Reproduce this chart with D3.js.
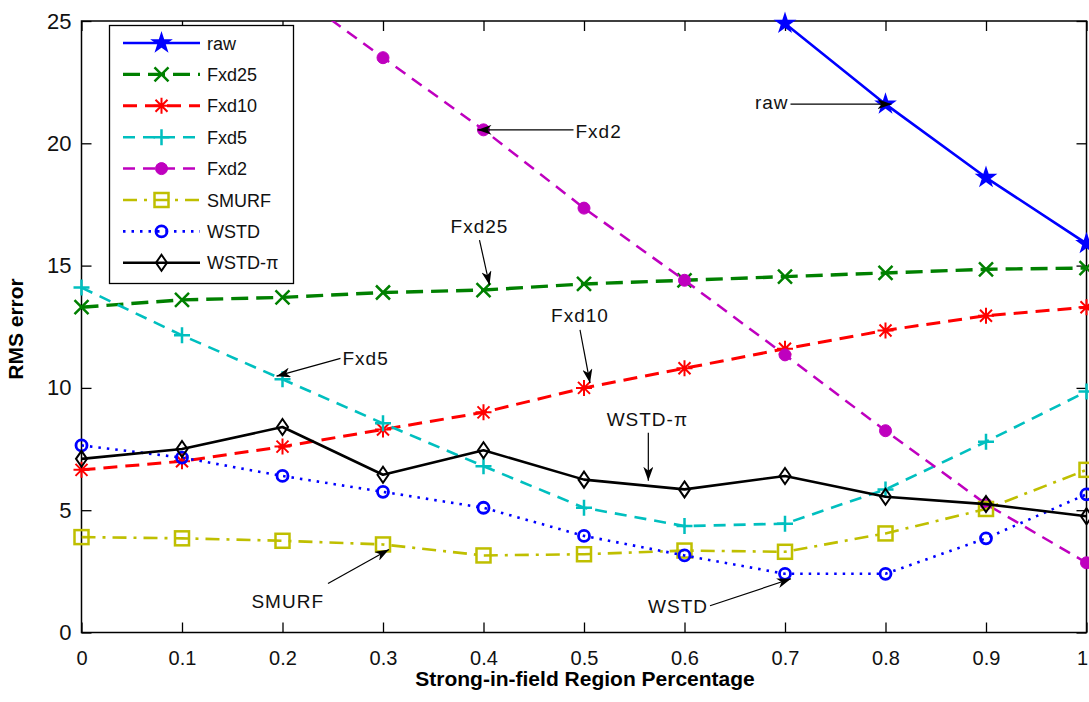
<!DOCTYPE html>
<html><head><meta charset="utf-8">
<script src="https://cdn.jsdelivr.net/npm/d3@7"></script>
<style>body{margin:0;background:#fff}svg{display:block}text{font-family:"Liberation Sans",Arial,sans-serif}</style>
</head><body>
<svg id="chart" width="1089" height="702"></svg>
<script>
// ---------- data ----------
const xValues = [0, 0.1, 0.2, 0.3, 0.4, 0.5, 0.6, 0.7, 0.8, 0.9, 1];
const raw    = [null, null, null, null, null, null, null, 24.9, 21.6, 18.6, 15.9];
const fxd25  = [13.3, 13.6, 13.7, 13.9, 14.0, 14.25, 14.4, 14.55, 14.7, 14.85, 14.9];
const fxd10  = [6.65, 7.0, 7.6, 8.3, 9.0, 10.0, 10.8, 11.6, 12.35, 12.95, 13.3];
const fxd5   = [14.1, 12.15, 10.35, 8.55, 6.8, 5.1, 4.35, 4.45, 5.85, 7.8, 9.85];
const fxd2   = [null, null, 26.5, 23.5, 20.55, 17.35, 14.4, 11.35, 8.25, 5.25, 2.85];
const smurf  = [3.9, 3.85, 3.75, 3.6, 3.15, 3.2, 3.35, 3.3, 4.05, 5.05, 6.65];
const wstd   = [7.65, 7.15, 6.4, 5.75, 5.1, 3.95, 3.15, 2.4, 2.4, 3.85, 5.65];
const wstdPi = [7.1, 7.5, 8.4, 6.45, 7.45, 6.25, 5.85, 6.4, 5.55, 5.25, 4.75];
const seriesNames = ["raw", "Fxd25", "Fxd10", "Fxd5", "Fxd2", "SMURF", "WSTD", "WSTD-\u03c0"];
const xTickValues = [0, 0.1, 0.2, 0.3, 0.4, 0.5, 0.6, 0.7, 0.8, 0.9, 1];
const xTickLabels = ["0", "0.1", "0.2", "0.3", "0.4", "0.5", "0.6", "0.7", "0.8", "0.9", "1"];
const yTickValues = [0, 5, 10, 15, 20, 25];
const xTitle = "Strong-in-field Region Percentage";
const yTitle = "RMS error";

// ---------- styles ----------
const styles = [
  {data: raw,    color: "#0000ff", width: 2.6, dash: null,          marker: "star"},
  {data: fxd25,  color: "#008000", width: 3.4, dash: "17,8",        marker: "x"},
  {data: fxd10,  color: "#ff0000", width: 3.0, dash: "14,8",        marker: "asterisk"},
  {data: fxd5,   color: "#00bfbf", width: 2.6, dash: "12,8",        marker: "plus"},
  {data: fxd2,   color: "#bf00bf", width: 2.5, dash: "12,8",        marker: "dot"},
  {data: smurf,  color: "#bfbf00", width: 2.6, dash: "14,7,3,7",    marker: "square"},
  {data: wstd,   color: "#0000ff", width: 2.6, dash: "2.5,6",       marker: "circle"},
  {data: wstdPi, color: "#000000", width: 2.6, dash: null,          marker: "diamond"}
];

// annotations: target given in data units (series/index or point), tail offset in px
const annotations = [
  {text: "raw",      series: 0, idx: 8,   tail: [-95, 0],  textAt: [-97, 5],  anchor: "end"},
  {text: "Fxd2",     series: 4, idx: 4,   tail: [90, 0],   textAt: [92, 8],   anchor: "start"},
  {text: "Fxd25",    series: 1, idx: 4,   tail: [-4, -50], textAt: [-4, -57], anchor: "middle"},
  {text: "Fxd10",    series: 2, idx: 5,   tail: [-4, -58], textAt: [-4, -66], anchor: "middle"},
  {text: "Fxd5",     series: 3, idx: 2,   tail: [58, -21], textAt: [60, -14], anchor: "start"},
  {text: "SMURF",    series: 5, idx: 3,   tail: [-55, 39], textAt: [-59, 64], anchor: "end"},
  {text: "WSTD-\u03c0", pt: [0.564, 6.0], tail: [0, -53], textAt: [-1, -60], anchor: "middle"},
  {text: "WSTD",     series: 6, idx: 7,   tail: [-75, 32], textAt: [-77, 39], anchor: "end"}
];

// ---------- layout ----------
const svg = d3.select("#chart");
const m = {left: 81.5, right: 1086.5, top: 21, bottom: 632.5};
const x = d3.scaleLinear().domain([0, 1]).range([m.left, m.right]);
const y = d3.scaleLinear().domain([0, 25]).range([m.bottom, m.top]);

svg.append("rect").attr("width", 1089).attr("height", 702).attr("fill", "#fff");

svg.append("defs").append("clipPath").attr("id", "clip")
  .append("rect").attr("x", m.left).attr("y", m.top)
  .attr("width", m.right - m.left).attr("height", m.bottom - m.top);

const defs = svg.select("defs");
defs.append("marker").attr("id", "arrow").attr("viewBox", "0 0 14 10")
  .attr("refX", 14).attr("refY", 5).attr("markerWidth", 14).attr("markerHeight", 10)
  .attr("markerUnits", "userSpaceOnUse").attr("orient", "auto")
  .append("path").attr("d", "M0,0 L14,5 L0,10 L4,5 Z").attr("fill", "#000");

// axes
const tickFont = 20;
const axB = d3.axisBottom(x).tickValues(xTickValues).tickFormat((d, i) => xTickLabels[i])
  .tickSizeInner(-10).tickSizeOuter(0).tickPadding(18);
const axT = d3.axisTop(x).tickValues(xTickValues).tickFormat("").tickSizeInner(-10).tickSizeOuter(0);
const axL = d3.axisLeft(y).tickValues(yTickValues).tickFormat(d3.format("d"))
  .tickSizeInner(-10).tickSizeOuter(0).tickPadding(10);
const axR = d3.axisRight(y).tickValues(yTickValues).tickFormat("").tickSizeInner(-10).tickSizeOuter(0);

function styleAxis(g, fs) {
  g.select(".domain").remove();
  g.selectAll(".tick line").attr("stroke", "#000").attr("stroke-width", 1.3);
  g.selectAll(".tick text").attr("fill", "#111").style("font-size", fs + "px")
    .style("font-family", "'Liberation Sans',Arial,sans-serif");
}
svg.append("g").attr("transform", `translate(0,${m.bottom})`).call(axB).call(g => styleAxis(g, tickFont))
  .call(g => g.selectAll(".tick text").filter(d => d === 1).attr("text-anchor", "end").attr("dx", "1"));
svg.append("g").attr("transform", `translate(0,${m.top})`).call(axT).call(g => styleAxis(g, tickFont));
svg.append("g").attr("transform", `translate(${m.left},0)`).call(axL).call(g => styleAxis(g, 22));
svg.append("g").attr("transform", `translate(${m.right},0)`).call(axR).call(g => styleAxis(g, tickFont));

svg.append("rect").attr("x", m.left).attr("y", m.top)
  .attr("width", m.right - m.left).attr("height", m.bottom - m.top)
  .attr("fill", "none").attr("stroke", "#000").attr("stroke-width", 1.5);

// titles
svg.append("text").attr("x", (m.left + m.right) / 2 + 1).attr("y", 686)
  .attr("text-anchor", "middle").style("font-size", "21px").style("font-weight", "bold")
  .attr("fill", "#000").text(xTitle);
svg.append("text").attr("transform", `translate(23,329) rotate(-90)`)
  .attr("text-anchor", "middle").style("font-size", "21px").style("font-weight", "bold")
  .attr("fill", "#000").text(yTitle);

// marker painter
function drawMarker(g, type, color, cx, cy) {
  const mk = g.append("g").attr("transform", `translate(${cx},${cy})`);
  const sw = 2;
  if (type === "star") {
    mk.append("path").attr("d", d3.symbol().type(d3.symbolStar).size(85)())
      .attr("fill", color).attr("stroke", color).attr("stroke-width", 2);
  } else if (type === "x") {
    mk.append("path").attr("d", "M-7,-7L7,7M-7,7L7,-7").attr("stroke", color).attr("stroke-width", sw + 0.5).attr("fill", "none");
  } else if (type === "asterisk") {
    mk.append("path").attr("d", "M-8,0L8,0M0,-8L0,8M-6,-6L6,6M-6,6L6,-6").attr("stroke", color).attr("stroke-width", sw).attr("fill", "none");
  } else if (type === "plus") {
    mk.append("path").attr("d", "M-8,0L8,0M0,-8L0,8").attr("stroke", color).attr("stroke-width", sw + 0.5).attr("fill", "none");
  } else if (type === "dot") {
    mk.append("circle").attr("r", 6).attr("fill", color).attr("stroke", color).attr("stroke-width", 1);
  } else if (type === "square") {
    mk.append("rect").attr("x", -7).attr("y", -7).attr("width", 14).attr("height", 14)
      .attr("fill", "none").attr("stroke", color).attr("stroke-width", sw + 0.5);
  } else if (type === "circle") {
    mk.append("circle").attr("r", 5.5).attr("fill", "none").attr("stroke", color).attr("stroke-width", sw + 0.8);
  } else if (type === "diamond") {
    mk.append("path").attr("d", "M0,-8L5.5,0L0,8L-5.5,0Z").attr("fill", "none").attr("stroke", color).attr("stroke-width", sw);
  }
}

// series
const line = d3.line().defined(d => d[1] !== null).x(d => x(d[0])).y(d => y(d[1]));
const plot = svg.append("g");
styles.forEach(s => {
  const pts = xValues.map((xv, i) => [xv, s.data[i]]);
  plot.append("path").datum(pts).attr("d", line).attr("clip-path", "url(#clip)")
    .attr("fill", "none").attr("stroke", s.color).attr("stroke-width", s.width)
    .attr("stroke-dasharray", s.dash).attr("stroke-linejoin", "round");
  const mg = plot.append("g");
  pts.filter(p => p[1] !== null && p[1] <= 25).forEach(p => drawMarker(mg, s.marker, s.color, x(p[0]), y(p[1])));
});

// annotations
const ann = svg.append("g");
annotations.forEach(a => {
  const tx = a.pt ? x(a.pt[0]) : x(xValues[a.idx]);
  const ty = a.pt ? y(a.pt[1]) : y(styles[a.series].data[a.idx]);
  const hx = tx - (a.tail[0] === 0 ? 0 : Math.sign(a.tail[0]) * 6);
  const hy = ty + (a.tail[0] === 0 || Math.abs(a.tail[1]) > 30 ? Math.sign(a.tail[1]) * 5 : a.tail[1] * 0.15);
  ann.append("line").attr("x1", tx + a.tail[0]).attr("y1", ty + a.tail[1])
    .attr("x2", hx).attr("y2", hy).attr("stroke", "#000").attr("stroke-width", 1.2)
    .attr("marker-end", "url(#arrow)");
  ann.append("text").attr("x", tx + a.textAt[0]).attr("y", ty + a.textAt[1])
    .attr("text-anchor", a.anchor).style("font-size", "19px").style("letter-spacing", "1px")
    .attr("fill", "#111").text(a.text);
});

// legend
const lg = svg.append("g");
lg.append("rect").attr("x", 109.5).attr("y", 25.5).attr("width", 184).attr("height", 258)
  .attr("fill", "#fff").attr("stroke", "#000").attr("stroke-width", 1.3);
styles.forEach((s, i) => {
  const ly = 43 + i * 31.4;
  lg.append("line").attr("x1", 123).attr("x2", 200).attr("y1", ly).attr("y2", ly)
    .attr("stroke", s.color).attr("stroke-width", s.width).attr("stroke-dasharray", s.dash);
  drawMarker(lg, s.marker, s.color, 161.5, ly);
  lg.append("text").attr("x", 207).attr("y", ly + 6.5).style("font-size", "18px")
    .attr("fill", "#111").text(seriesNames[i]);
});
</script>
</body></html>
